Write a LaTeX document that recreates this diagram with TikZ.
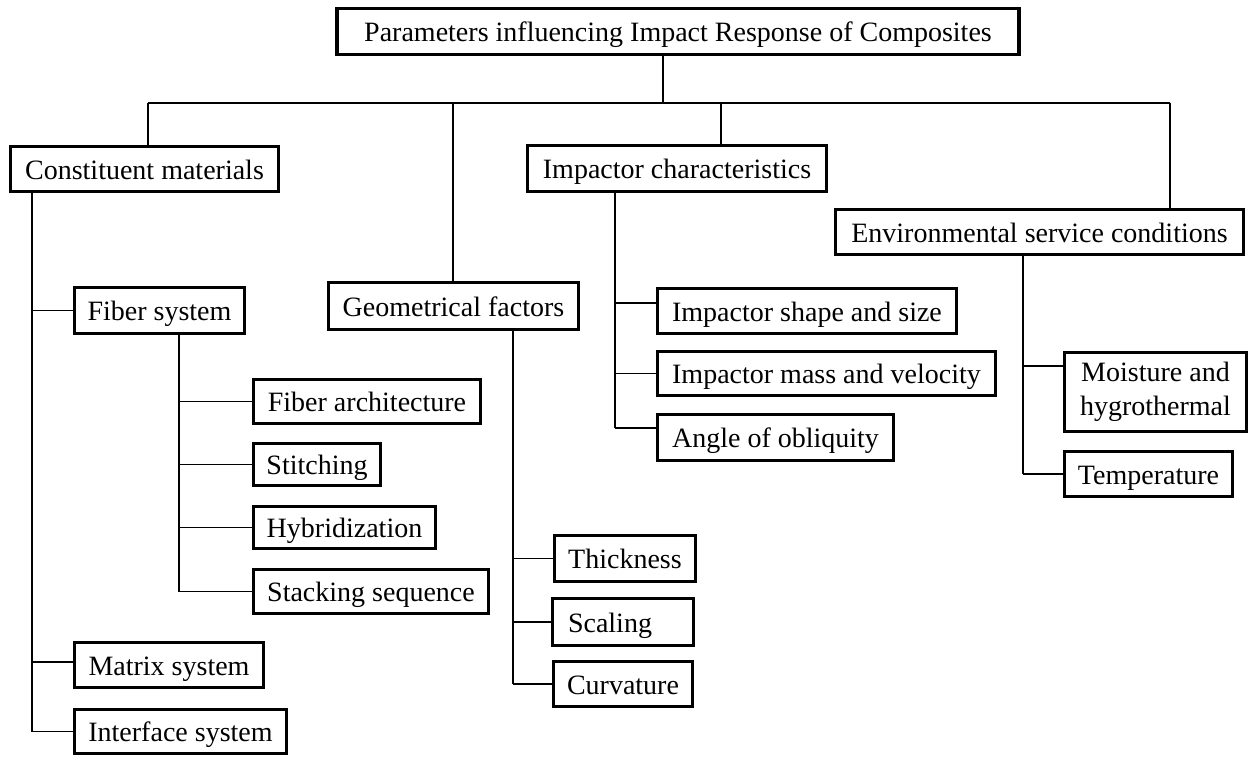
\documentclass[tikz,border=0pt]{standalone}
\usepackage{fontspec}
\setmainfont{Liberation Serif}
\begin{document}
\begin{tikzpicture}[x=1pt,y=-1pt,
  bxbase/.style={draw=black,line width=3.5pt,inner sep=0pt,align=center,
    font=\fontsize{28}{34}\selectfont},
  bx/.style={bxbase,text height=20pt,text depth=0pt},
  ln/.style={draw=black,line width=1.2pt}]
\useasboundingbox[fill=white] (0,0) rectangle (1250,757);
% boxes
\node[bx,minimum width=682,minimum height=46] (top) at (678,31.5) {Parameters influencing Impact Response of Composites};
\node[bx,minimum width=268,minimum height=45] (cons) at (144.5,169) {Constituent materials};
\node[bx,minimum width=170,minimum height=46] (fiber) at (159.5,310.5) {Fiber system};
\node[bx,minimum width=227,minimum height=44] (farch) at (367,401.5) {Fiber architecture};
\node[bx,minimum width=127,minimum height=42] (stitch) at (317,464.5) {Stitching};
\node[bx,minimum width=182,minimum height=42] (hybrid) at (344.5,527.5) {Hybridization};
\node[bx,minimum width=235,minimum height=44] (stack) at (371,591.5) {Stacking sequence};
\node[bx,minimum width=189,minimum height=45] (matrix) at (169,665) {Matrix system};
\node[bx,minimum width=212,minimum height=44] (interf) at (180.5,731.5) {Interface system};
\node[bx,minimum width=250,minimum height=47] (geom) at (453.5,306) {Geometrical factors};
\node[bx,minimum width=141,minimum height=46] (thick) at (625,558.5) {Thickness};
\node[bx,minimum height=47,text width=110pt,align=left,inner xsep=15.5pt] (scal) at (623,622) {Scaling};
\node[bx,minimum width=139,minimum height=45] (curv) at (623,684) {Curvature};
\node[bx,minimum width=299,minimum height=46] (impc) at (677,168.5) {Impactor characteristics};
\node[bx,minimum width=299,minimum height=45] (ishape) at (807,311) {Impactor shape and size};
\node[bx,minimum width=338,minimum height=44] (imass) at (826.5,373.5) {Impactor mass and velocity};
\node[bx,minimum width=236,minimum height=46] (angle) at (775.5,437.5) {Angle of obliquity};
\node[bx,minimum width=408,minimum height=45] (env) at (1039.5,232) {Environmental service conditions};
\node[bxbase,minimum width=182,minimum height=79] (moist) at (1155.5,392) {Moisture and\\hygrothermal};
\node[bx,minimum width=168,minimum height=45] (temp) at (1148.5,474) {Temperature};
% bus
\coordinate (j0) at (663,103);
\coordinate (bL) at (148,103);
\coordinate (bR) at (1170,103);
\coordinate (bG) at (453,103);
\coordinate (bI) at (721,103);
\draw[ln] (j0 |- top.south) -- (j0);
\draw[ln] (bL) -- (bR);
\draw[ln] (bL) -- (bL |- cons.north);
\draw[ln] (bG) -- (bG |- geom.north);
\draw[ln] (bI) -- (bI |- impc.north);
\draw[ln] (bR) -- (bR |- env.north);
% constituent trunk
\coordinate (ct) at (32,0);
\coordinate (mb) at ([yshift=3pt]matrix.west);
\draw[ln] (ct |- cons.south) -- (ct |- interf.west);
\draw[ln] (ct |- fiber.west) -- (fiber.west);
\draw[ln] (ct |- mb) -- (mb);
\draw[ln] (ct |- interf.west) -- (interf.west);
% fiber trunk
\coordinate (ft) at (179,0);
\draw[ln] (ft |- fiber.south) -- (ft |- stack.west);
\foreach \n in {farch,stitch,hybrid,stack} \draw[ln] (ft |- \n.west) -- (\n.west);
% geometrical trunk
\coordinate (gt) at (513,0);
\draw[ln] (gt |- geom.south) -- (gt |- curv.west);
\foreach \n in {thick,scal,curv} \draw[ln] (gt |- \n.west) -- (\n.west);
% impactor trunk
\coordinate (it) at (615,0);
\coordinate (sb) at ([yshift=8pt]ishape.west);
\coordinate (ab) at ([yshift=9.5pt]angle.west);
\draw[ln] (it |- impc.south) -- (it |- ab);
\draw[ln] (it |- sb) -- (sb);
\draw[ln] (it |- imass.west) -- (imass.west);
\draw[ln] (it |- ab) -- (ab);
% environmental trunk
\coordinate (et) at (1023,0);
\coordinate (mob) at ([yshift=26pt]moist.west);
\draw[ln] (et |- env.south) -- (et |- temp.west);
\draw[ln] (et |- mob) -- (mob);
\draw[ln] (et |- temp.west) -- (temp.west);
\end{tikzpicture}
\end{document}
